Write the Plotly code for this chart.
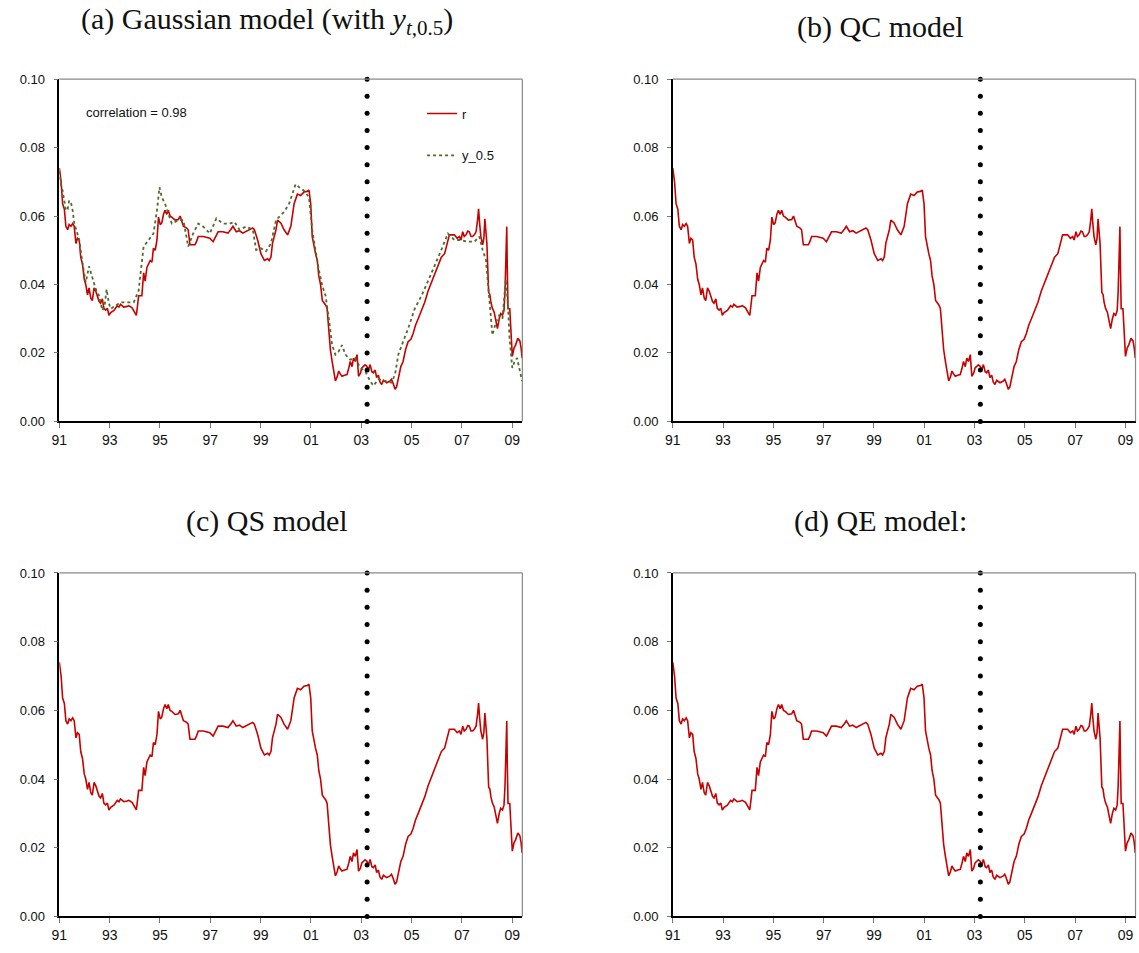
import plotly.graph_objects as go

# ---- data ----
r_years = [1991.00, 1991.07, 1991.13, 1991.20, 1991.26, 1991.33, 1991.39, 1991.46, 1991.53, 1991.59,
           1991.66, 1991.72, 1991.79, 1991.85, 1991.92, 1991.99, 1992.05, 1992.12, 1992.18, 1992.25,
           1992.31, 1992.38, 1992.45, 1992.51, 1992.58, 1992.64, 1992.71, 1992.77, 1992.84, 1992.91,
           1992.97, 1993.04, 1993.17, 1993.30, 1993.37, 1993.43, 1993.56, 1993.69, 1993.76, 1993.89,
           1993.96, 1994.06, 1994.11, 1994.15, 1994.28, 1994.35, 1994.41, 1994.48, 1994.61, 1994.68,
           1994.74, 1994.81, 1994.88, 1994.94, 1995.01, 1995.07, 1995.14, 1995.20, 1995.27, 1995.33,
           1995.40, 1995.47, 1995.60, 1995.73, 1995.80, 1995.86, 1995.93, 1996.06, 1996.12, 1996.19,
           1996.39, 1996.45, 1996.52, 1996.72, 1996.85, 1996.98, 1997.11, 1997.20, 1997.31, 1997.50,
           1997.70, 1997.83, 1997.90, 1998.03, 1998.16, 1998.29, 1998.42, 1998.55, 1998.68, 1998.75,
           1998.88, 1999.01, 1999.15, 1999.28, 1999.34, 1999.41, 1999.47, 1999.61, 1999.67, 1999.80,
           1999.93, 2000.07, 2000.20, 2000.33, 2000.46, 2000.59, 2000.72, 2000.85, 2000.92, 2000.99,
           2001.05, 2001.18, 2001.25, 2001.31, 2001.38, 2001.45, 2001.58, 2001.64, 2001.71, 2001.77,
           2001.84, 2001.91, 2001.97, 2002.04, 2002.10, 2002.17, 2002.23, 2002.33, 2002.43, 2002.50,
           2002.56, 2002.63, 2002.69, 2002.76, 2002.83, 2002.89, 2002.96, 2003.02, 2003.15, 2003.22,
           2003.28, 2003.35, 2003.42, 2003.48, 2003.55, 2003.61, 2003.68, 2003.74, 2003.81, 2003.88,
           2004.01, 2004.14, 2004.20, 2004.27, 2004.34, 2004.40, 2004.47, 2004.57, 2004.66, 2004.76,
           2004.86, 2004.97, 2005.06, 2005.15, 2005.26, 2005.39, 2005.52, 2005.65, 2005.78, 2005.91,
           2006.04, 2006.18, 2006.31, 2006.41, 2006.50, 2006.60, 2006.70, 2006.81, 2006.90, 2006.96,
           2007.03, 2007.09, 2007.16, 2007.23, 2007.29, 2007.36, 2007.42, 2007.49, 2007.56, 2007.62,
           2007.66, 2007.70, 2007.75, 2007.82, 2007.87, 2007.91, 2007.95, 2007.99, 2008.06, 2008.11,
           2008.15, 2008.21, 2008.28, 2008.35, 2008.41, 2008.48, 2008.54, 2008.61, 2008.67, 2008.71,
           2008.75, 2008.78, 2008.80, 2008.83, 2008.90, 2008.96, 2009.00, 2009.07, 2009.13, 2009.22,
           2009.30, 2009.35, 2009.39]
r_values = [0.0740, 0.0700, 0.0636, 0.0620, 0.0570, 0.0560, 0.0575, 0.0570, 0.0578, 0.0570,
            0.0520, 0.0535, 0.0530, 0.0480, 0.0460, 0.0415, 0.0400, 0.0370, 0.0390, 0.0360,
            0.0353, 0.0390, 0.0380, 0.0365, 0.0350, 0.0345, 0.0358, 0.0330, 0.0325, 0.0330,
            0.0310, 0.0318, 0.0324, 0.0338, 0.0334, 0.0342, 0.0334, 0.0336, 0.0338, 0.0332,
            0.0324, 0.0310, 0.0340, 0.0367, 0.0367, 0.0434, 0.0410, 0.0450, 0.0470, 0.0465,
            0.0506, 0.0500, 0.0530, 0.0597, 0.0575, 0.0580, 0.0605, 0.0617, 0.0605, 0.0617,
            0.0600, 0.0597, 0.0588, 0.0590, 0.0600, 0.0585, 0.0570, 0.0565, 0.0560, 0.0516,
            0.0516, 0.0525, 0.0540, 0.0540, 0.0537, 0.0535, 0.0525, 0.0540, 0.0554, 0.0554,
            0.0550, 0.0562, 0.0570, 0.0554, 0.0557, 0.0550, 0.0555, 0.0560, 0.0565, 0.0560,
            0.0530, 0.0490, 0.0470, 0.0475, 0.0470, 0.0480, 0.0520, 0.0560, 0.0588, 0.0580,
            0.0560, 0.0545, 0.0570, 0.0636, 0.0664, 0.0660, 0.0670, 0.0672, 0.0676, 0.0636,
            0.0540, 0.0490, 0.0470, 0.0425, 0.0400, 0.0353, 0.0340, 0.0330, 0.0252, 0.0210,
            0.0175, 0.0140, 0.0118, 0.0130, 0.0147, 0.0138, 0.0132, 0.0135, 0.0137, 0.0155,
            0.0175, 0.0160, 0.0185, 0.0175, 0.0195, 0.0132, 0.0140, 0.0156, 0.0165, 0.0161,
            0.0150, 0.0166, 0.0145, 0.0142, 0.0150, 0.0128, 0.0135, 0.0115, 0.0108, 0.0120,
            0.0113, 0.0118, 0.0123, 0.0110, 0.0094, 0.0100, 0.0128, 0.0160, 0.0175, 0.0210,
            0.0233, 0.0240, 0.0257, 0.0280, 0.0300, 0.0325, 0.0348, 0.0380, 0.0406, 0.0430,
            0.0458, 0.0480, 0.0490, 0.0520, 0.0545, 0.0545, 0.0545, 0.0535, 0.0540, 0.0530,
            0.0554, 0.0540, 0.0545, 0.0556, 0.0554, 0.0540, 0.0540, 0.0545, 0.0554, 0.0588,
            0.0621, 0.0580, 0.0540, 0.0516, 0.0535, 0.0592, 0.0560, 0.0520, 0.0377, 0.0370,
            0.0348, 0.0330, 0.0319, 0.0290, 0.0271, 0.0300, 0.0315, 0.0310, 0.0324, 0.0380,
            0.0500, 0.0569, 0.0450, 0.0329, 0.0329, 0.0223, 0.0190, 0.0215, 0.0223, 0.0243,
            0.0235, 0.0214, 0.0185]

y05_years = [1991.00, 1991.07, 1991.13, 1991.20, 1991.26, 1991.33, 1991.39, 1991.46, 1991.53, 1991.59,
             1991.66, 1991.79, 1991.92, 1992.05, 1992.18, 1992.31, 1992.45, 1992.58, 1992.71, 1992.80,
             1992.88, 1992.97, 1993.04, 1993.23, 1993.43, 1993.69, 1993.96, 1994.15, 1994.26, 1994.35,
             1994.55, 1994.74, 1994.88, 1994.98, 1995.07, 1995.20, 1995.33, 1995.47, 1995.73, 1995.93,
             1996.12, 1996.32, 1996.52, 1996.72, 1996.98, 1997.24, 1997.50, 1997.77, 1997.96, 1998.16,
             1998.42, 1998.69, 1998.82, 1999.01, 1999.21, 1999.41, 1999.61, 1999.74, 1999.93, 2000.13,
             2000.26, 2000.39, 2000.53, 2000.72, 2000.92, 2001.05, 2001.18, 2001.31, 2001.45, 2001.58,
             2001.71, 2001.84, 2001.97, 2002.10, 2002.23, 2002.37, 2002.56, 2002.76, 2002.96, 2003.15,
             2003.35, 2003.48, 2003.68, 2003.94, 2004.20, 2004.34, 2004.47, 2004.66, 2004.86, 2005.12,
             2005.39, 2005.65, 2005.91, 2006.18, 2006.44, 2006.70, 2006.96, 2007.23, 2007.49, 2007.69,
             2007.82, 2007.95, 2008.02, 2008.08, 2008.21, 2008.35, 2008.48, 2008.61, 2008.74, 2008.83,
             2008.89, 2009.00, 2009.09, 2009.19, 2009.30, 2009.39]
y05_values = [0.0731, 0.0690, 0.0674, 0.0640, 0.0616, 0.0620, 0.0645, 0.0640, 0.0616, 0.0580,
              0.0560, 0.0530, 0.0463, 0.0406, 0.0453, 0.0420, 0.0386, 0.0367, 0.0324, 0.0340,
              0.0386, 0.0345, 0.0329, 0.0338, 0.0348, 0.0348, 0.0348, 0.0382, 0.0450, 0.0511,
              0.0530, 0.0549, 0.0616, 0.0684, 0.0655, 0.0636, 0.0607, 0.0578, 0.0588, 0.0588,
              0.0511, 0.0549, 0.0578, 0.0569, 0.0549, 0.0593, 0.0578, 0.0578, 0.0583, 0.0560,
              0.0569, 0.0560, 0.0501, 0.0506, 0.0497, 0.0520, 0.0588, 0.0597, 0.0612, 0.0636,
              0.0664, 0.0693, 0.0684, 0.0674, 0.0655, 0.0559, 0.0501, 0.0444, 0.0396, 0.0367,
              0.0300, 0.0223, 0.0195, 0.0204, 0.0223, 0.0195, 0.0180, 0.0185, 0.0156, 0.0147,
              0.0118, 0.0104, 0.0123, 0.0118, 0.0113, 0.0137, 0.0195, 0.0233, 0.0271, 0.0329,
              0.0367, 0.0410, 0.0453, 0.0501, 0.0549, 0.0530, 0.0530, 0.0525, 0.0525, 0.0540,
              0.0501, 0.0473, 0.0415, 0.0367, 0.0252, 0.0290, 0.0310, 0.0300, 0.0415, 0.0338,
              0.0243, 0.0156, 0.0175, 0.0185, 0.0147, 0.0118]

break_year = 2003.23
break_dots = [0.000, 0.005, 0.010, 0.015, 0.020, 0.025, 0.030, 0.035, 0.040, 0.045, 0.050,
              0.055, 0.060, 0.065, 0.070, 0.075, 0.080, 0.085, 0.090, 0.095, 0.100]

x_tickvals = [1991, 1993, 1995, 1997, 1999, 2001, 2003, 2005, 2007, 2009]
x_ticktext = ["91", "93", "95", "97", "99", "01", "03", "05", "07", "09"]
y_tickvals = [0.00, 0.02, 0.04, 0.06, 0.08, 0.10]

titles = ["(a) Gaussian model (with <i>y</i><sub><i>t</i>,0.5</sub>)",
          "(b) QC model", "(c) QS model", "(d) QE model:"]

# ---- layout geometry (paper fractions) ----
W, H = 1139, 953
xdoms = [[51.7 / W, 518 / W], [669.5 / W, 1135.5 / W]]
ydoms = [[1 - 421 / H, 1 - 73.3 / H], [1 - 924 / H, 1 - 575 / H]]

RED = "#C80000"
GREEN = "#4F6B2A"

fig = go.Figure()
layout = dict(
    width=W, height=H, margin=dict(l=0, r=0, t=0, b=0),
    paper_bgcolor="white", plot_bgcolor="white",
    font=dict(family="Liberation Sans, Arial, sans-serif", size=12, color="#111"),
    showlegend=True,
    legend=dict(x=417 / W, y=1 - 93 / H, xanchor="left", yanchor="top",
                bgcolor="rgba(0,0,0,0)", font=dict(size=13, color="#111"),
                tracegroupgap=22, itemwidth=30),
)
shapes = []
annotations = []

positions = [(0, 0), (0, 1), (1, 0), (1, 1)]
for i, (row, col) in enumerate(positions):
    idx = i + 1
    xa = "x" if idx == 1 else f"x{idx}"
    ya = "y" if idx == 1 else f"y{idx}"
    layout[f"xaxis{'' if idx == 1 else idx}"] = dict(
        domain=xdoms[col], anchor=ya, range=[1991, 2009.4],
        tickvals=x_tickvals, ticktext=x_ticktext, ticks="outside", ticklen=5,
        tickcolor="#777", showline=True, linecolor="black", linewidth=1.5,
        showgrid=False, zeroline=False, tickfont=dict(size=14))
    layout[f"yaxis{'' if idx == 1 else idx}"] = dict(
        domain=ydoms[row], anchor=xa, range=[0, 0.1],
        tickvals=y_tickvals, tickformat=".2f", ticks="outside", ticklen=4,
        tickcolor="#777", showline=True, linecolor="black", linewidth=1.5,
        showgrid=False, zeroline=False, tickfont=dict(size=13), ticklabelstandoff=6)
    # grey top/right frame
    shapes.append(dict(type="line", xref=f"{xa} domain", yref=f"{ya} domain",
                       x0=0, x1=1, y0=1, y1=1, line=dict(color="#888", width=1.2)))
    shapes.append(dict(type="line", xref=f"{xa} domain", yref=f"{ya} domain",
                       x0=1, x1=1, y0=0, y1=1, line=dict(color="#888", width=1.2)))

    fig.add_trace(go.Scatter(x=r_years, y=r_values, mode="lines", name="r",
                             line=dict(color=RED, width=1.6), xaxis=xa, yaxis=ya,
                             showlegend=(idx == 1), legendgroup="r"))
    if idx == 1:
        fig.add_trace(go.Scatter(x=y05_years, y=y05_values, mode="lines", name="y_0.5",
                                 line=dict(color=GREEN, width=1.8, dash="dot"),
                                 xaxis=xa, yaxis=ya, legendgroup="y"))
    fig.add_trace(go.Scatter(x=[break_year] * len(break_dots), y=break_dots, mode="markers",
                             marker=dict(color="black", size=5), xaxis=xa, yaxis=ya,
                             showlegend=False, hoverinfo="skip", cliponaxis=False))

# titles
title_pos = [(261, 14), (879, 20), (261, 522), (879, 522)]
for t, (tx, ty) in zip(titles, title_pos):
    annotations.append(dict(text=t, x=tx / W, y=1 - ty / H, xref="paper", yref="paper",
                            xanchor="center", yanchor="middle", showarrow=False,
                            font=dict(family="Liberation Serif, DejaVu Serif, serif",
                                      size=30, color="#111")))

annotations.append(dict(text="correlation = 0.98", x=1991.0 + (77 - 51.7) / 25.37, y=0.0903,
                        xref="x", yref="y", xanchor="left", yanchor="middle",
                        showarrow=False, font=dict(size=13, color="#111")))

layout["shapes"] = shapes
layout["annotations"] = annotations
fig.update_layout(**layout)
fig.write_html("out.html")
